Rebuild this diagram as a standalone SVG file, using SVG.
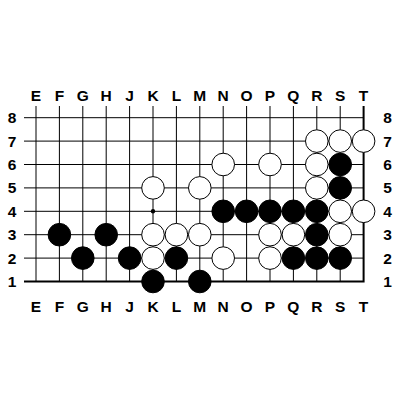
<svg xmlns="http://www.w3.org/2000/svg" width="400" height="400" viewBox="0 0 400 400">
<style>
.g{stroke:#000;stroke-width:1;fill:none}
.e{stroke:#000;stroke-width:2;fill:none}
.w{fill:#fff;stroke:#000;stroke-width:1}
.b{fill:#000;stroke:#000;stroke-width:1}
.t{font-family:"Liberation Sans",Arial,sans-serif;font-weight:bold;font-size:15.5px;text-anchor:middle;dominant-baseline:central;fill:#000}
</style>
<rect width="400" height="400" fill="#fff"/>
<g id="grid" class="g">
<path d="M24 117.7H363.6M24 141.1H363.6M24 164.5H363.6M24 187.9H363.6M24 211.3H363.6M24 234.7H363.6M24 258.1H363.6"/>
<path d="M36 106V281.5M59.4 106V281.5M82.8 106V281.5M106.2 106V281.5M129.6 106V281.5M153 106V281.5M176.4 106V281.5M199.8 106V281.5M223.2 106V281.5M246.6 106V281.5M270 106V281.5M293.4 106V281.5M316.8 106V281.5M340.2 106V281.5"/>
</g>
<g id="edges" class="e">
<path d="M24 281.5H363.6V106"/>
</g>
<circle id="hoshi" cx="153" cy="211.3" r="2.2" fill="#000"/>
<g id="labels" class="t">
<text x="36" y="95">E</text><text x="59.4" y="95">F</text><text x="82.8" y="95">G</text><text x="106.2" y="95">H</text><text x="129.6" y="95">J</text><text x="153" y="95">K</text><text x="176.4" y="95">L</text><text x="199.8" y="95">M</text><text x="223.2" y="95">N</text><text x="246.6" y="95">O</text><text x="270" y="95">P</text><text x="293.4" y="95">Q</text><text x="316.8" y="95">R</text><text x="340.2" y="95">S</text><text x="363.6" y="95">T</text>
<text x="36" y="306">E</text><text x="59.4" y="306">F</text><text x="82.8" y="306">G</text><text x="106.2" y="306">H</text><text x="129.6" y="306">J</text><text x="153" y="306">K</text><text x="176.4" y="306">L</text><text x="199.8" y="306">M</text><text x="223.2" y="306">N</text><text x="246.6" y="306">O</text><text x="270" y="306">P</text><text x="293.4" y="306">Q</text><text x="316.8" y="306">R</text><text x="340.2" y="306">S</text><text x="363.6" y="306">T</text>
<text x="12" y="117.7">8</text><text x="12" y="141.1">7</text><text x="12" y="164.5">6</text><text x="12" y="187.9">5</text><text x="12" y="211.3">4</text><text x="12" y="234.7">3</text><text x="12" y="258.1">2</text><text x="12" y="281.5">1</text>
<text x="387.5" y="117.7">8</text><text x="387.5" y="141.1">7</text><text x="387.5" y="164.5">6</text><text x="387.5" y="187.9">5</text><text x="387.5" y="211.3">4</text><text x="387.5" y="234.7">3</text><text x="387.5" y="258.1">2</text><text x="387.5" y="281.5">1</text>
</g>
<g id="white-stones" class="w">
<circle cx="316.8" cy="141.1" r="11.3"/><circle cx="340.2" cy="141.1" r="11.3"/><circle cx="363.6" cy="141.1" r="11.3"/>
<circle cx="223.2" cy="164.5" r="11.3"/><circle cx="270" cy="164.5" r="11.3"/><circle cx="316.8" cy="164.5" r="11.3"/>
<circle cx="153" cy="187.9" r="11.3"/><circle cx="199.8" cy="187.9" r="11.3"/><circle cx="316.8" cy="187.9" r="11.3"/>
<circle cx="340.2" cy="211.3" r="11.3"/><circle cx="363.6" cy="211.3" r="11.3"/>
<circle cx="153" cy="234.7" r="11.3"/><circle cx="176.4" cy="234.7" r="11.3"/><circle cx="199.8" cy="234.7" r="11.3"/><circle cx="270" cy="234.7" r="11.3"/><circle cx="293.4" cy="234.7" r="11.3"/><circle cx="340.2" cy="234.7" r="11.3"/>
<circle cx="153" cy="258.1" r="11.3"/><circle cx="223.2" cy="258.1" r="11.3"/><circle cx="270" cy="258.1" r="11.3"/>
</g>
<g id="black-stones" class="b">
<circle cx="340.2" cy="164.5" r="11.3"/><circle cx="340.2" cy="187.9" r="11.3"/>
<circle cx="223.2" cy="211.3" r="11.3"/><circle cx="246.6" cy="211.3" r="11.3"/><circle cx="270" cy="211.3" r="11.3"/><circle cx="293.4" cy="211.3" r="11.3"/><circle cx="316.8" cy="211.3" r="11.3"/>
<circle cx="59.4" cy="234.7" r="11.3"/><circle cx="106.2" cy="234.7" r="11.3"/><circle cx="316.8" cy="234.7" r="11.3"/>
<circle cx="82.8" cy="258.1" r="11.3"/><circle cx="129.6" cy="258.1" r="11.3"/><circle cx="176.4" cy="258.1" r="11.3"/><circle cx="293.4" cy="258.1" r="11.3"/><circle cx="316.8" cy="258.1" r="11.3"/><circle cx="340.2" cy="258.1" r="11.3"/>
<circle cx="153" cy="281.5" r="11.3"/><circle cx="199.8" cy="281.5" r="11.3"/>
</g>
</svg>
